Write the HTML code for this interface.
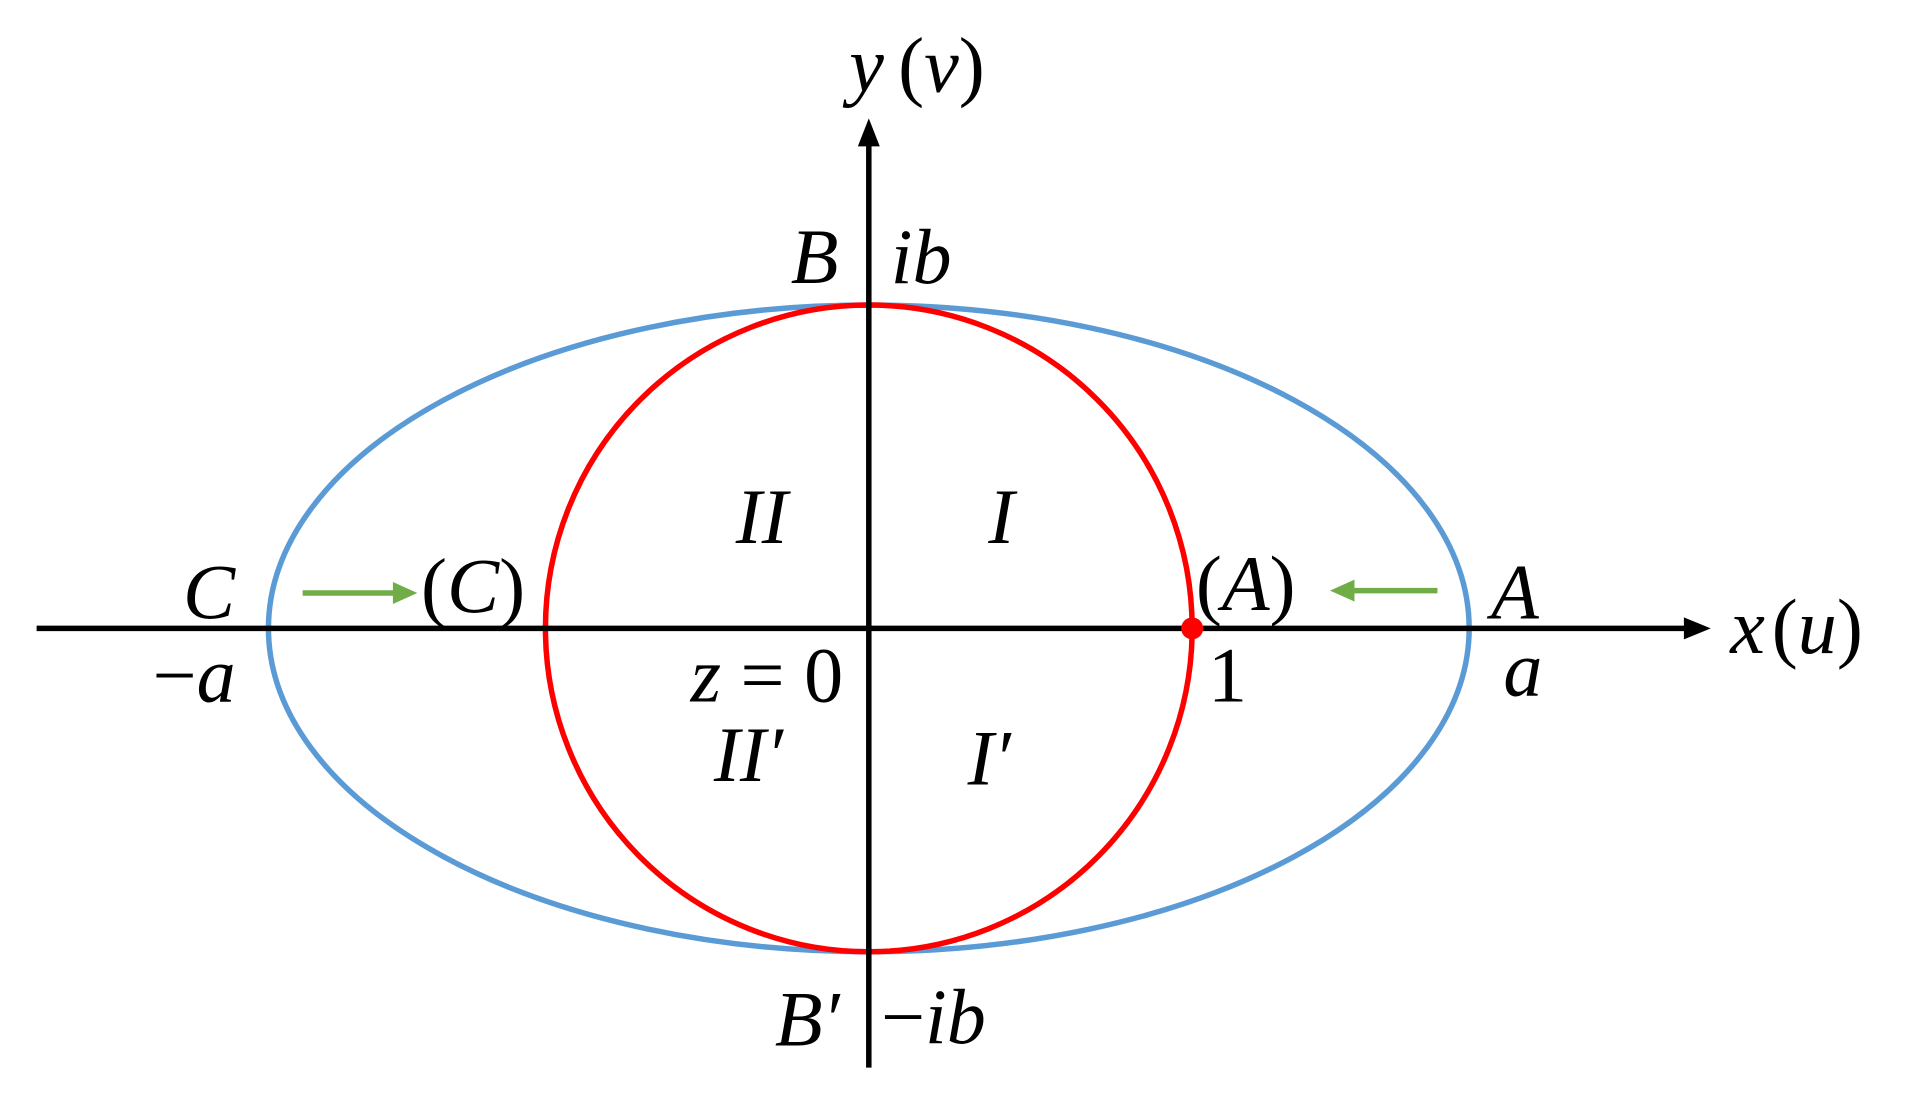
<!DOCTYPE html>
<html><head><meta charset="utf-8"><style>html,body{margin:0;padding:0;background:#fff;overflow:hidden}svg{display:block}</style></head>
<body>
<svg width="1906" height="1100" viewBox="0 0 1562 901.5" preserveAspectRatio="none" xmlns="http://www.w3.org/2000/svg">
<rect width="1562" height="901.5" fill="#fff"/>
<ellipse cx="712" cy="515" rx="492" ry="265" fill="none" stroke="#5b9bd5" stroke-width="4.5"/>
<ellipse cx="712" cy="515" rx="265" ry="265" fill="none" stroke="#ff0000" stroke-width="4.5"/>
<line x1="30" y1="515" x2="1385" y2="515" stroke="#000" stroke-width="4.5"/>
<polygon points="1402,515 1380,506 1380,524" fill="#000"/>
<line x1="712" y1="875" x2="712" y2="115" stroke="#000" stroke-width="4.5"/>
<polygon points="712,97 703,120 721,120" fill="#000"/>
<circle cx="977" cy="515" r="9" fill="#ff0000"/>
<line x1="248" y1="486" x2="325" y2="486" stroke="#70ad47" stroke-width="4.5"/>
<polygon points="342,486 322,477 322,495" fill="#70ad47"/>
<line x1="1178" y1="484" x2="1108" y2="484" stroke="#70ad47" stroke-width="4.5"/>
<polygon points="1090,484 1110,475 1110,493" fill="#70ad47"/>
<g style="font-family:'Liberation Serif','Times New Roman',Times,'Nimbus Roman','Tinos',serif;font-size:64px" fill="#000">
<text x="696" y="75" font-style="italic">y</text><text x="736" y="75">(<tspan font-style="italic">v</tspan>)</text>
<text x="648" y="232" font-style="italic">B</text>
<text x="730" y="232" font-style="italic">ib</text>
<text x="150" y="507" font-style="italic">C</text>
<text x="345" y="502">(<tspan font-style="italic">C</tspan>)</text>
<text x="980" y="500">(<tspan font-style="italic">A</tspan>)</text>
<text x="1222" y="507" font-style="italic">A</text>
<text x="1418" y="535" font-style="italic">x</text><text x="1452" y="535">(<tspan font-style="italic">u</tspan>)</text>
<text x="125" y="575">−<tspan font-style="italic">a</tspan></text>
<text x="566" y="575"><tspan font-style="italic">z</tspan> = 0</text>
<text x="990" y="575">1</text>
<text x="1232" y="570" font-style="italic">a</text>
<text x="603" y="445" font-style="italic">II</text>
<text x="810" y="445" font-style="italic">I</text>
<text x="585" y="640" font-style="italic">II′</text>
<text x="793" y="643" font-style="italic">I′</text>
<text x="635" y="857" font-style="italic">B′</text>
<text x="722" y="855">−<tspan font-style="italic">ib</tspan></text>
</g>
</svg>
</body></html>
